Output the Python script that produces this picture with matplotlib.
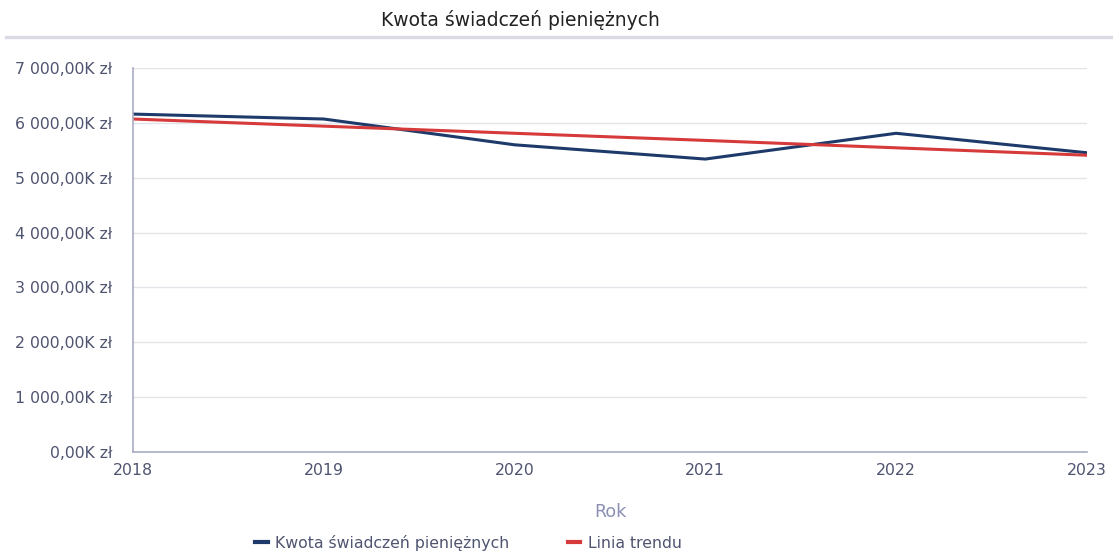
import matplotlib
matplotlib.use("Agg")
import matplotlib.pyplot as plt
from matplotlib.lines import Line2D

years = [2018, 2019, 2020, 2021, 2022, 2023]
kwota = [6160, 6070, 5600, 5340, 5810, 5455]  # w tys. zł
trend = [6070, 5940, 5810, 5680, 5545, 5410]
yticks = [0, 1000, 2000, 3000, 4000, 5000, 6000, 7000]

NAVY = "#1d3a6b"
RED = "#d63a3a"
TXT = "#4f5470"

plt.rcParams["font.family"] = ["DejaVu Sans"]


def fmt(v):
    s = f"{v:,.2f}".replace(",", " ").replace(".", ",")
    return f"{s}K zł"


fig = plt.figure(figsize=(11.13, 5.52), dpi=100)
ax = fig.add_axes([0.1195, 0.1812, 0.857, 0.6956])

ax.plot(years, kwota, color=NAVY, lw=2.2)
ax.plot(years, trend, color=RED, lw=2.2)

ax.set_xlim(2018, 2023)
ax.set_ylim(0, 7000)
ax.set_xticks(years)
ax.set_yticks(yticks)
ax.set_yticklabels([fmt(v) for v in yticks])
ax.tick_params(axis="y", length=0, pad=15, labelsize=11.3, labelcolor=TXT)
ax.tick_params(axis="x", length=0, pad=8, labelsize=11.3, labelcolor=TXT)
ax.grid(axis="y", color="#e3e3ea", lw=1)
ax.set_axisbelow(True)
for side in ("top", "right"):
    ax.spines[side].set_visible(False)
for side in ("left", "bottom"):
    ax.spines[side].set_color("#a9abc4")
    ax.spines[side].set_linewidth(1.2)

ax.set_xlabel("Rok", fontsize=12.5, color="#8a8fb3", labelpad=18)

fig.text(0.468, 0.963, "Kwota świadczeń pieniężnych", ha="center", va="center",
         fontsize=13.5, color="#222222")
fig.add_artist(Line2D([0.005, 1.0], [0.933, 0.933], transform=fig.transFigure,
                      color="#d9dae3", lw=2.4))

handles = [Line2D([], [], color=NAVY, lw=3), Line2D([], [], color=RED, lw=3)]
fig.legend(handles, ["Kwota świadczeń pieniężnych", "Linia trendu"],
           loc="center", bbox_to_anchor=(0.421, 0.017), ncol=2, frameon=False,
           fontsize=11.3, labelcolor=TXT, handlelength=0.8, columnspacing=3.7,
           handletextpad=0.5)

fig.savefig("out.png", dpi=100)
